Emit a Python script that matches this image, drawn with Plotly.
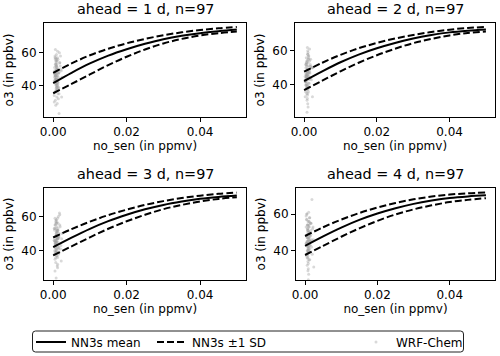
import plotly.graph_objects as go

# NN3s curves, read at these no_sen values (ppmv)
no_grid = [0.0, 0.005, 0.01, 0.015, 0.02, 0.025, 0.03, 0.035, 0.04, 0.045, 0.05]

mean_1d = [41.5, 47.8, 53.5, 58.3, 62.2, 65.5, 68.3, 70.4, 72.0, 73.2, 74.2]
upper_1d = [47.8, 53.5, 58.5, 62.5, 65.8, 68.5, 70.7, 72.5, 73.9, 75.0, 75.8]
lower_1d = [35.3, 41.0, 46.8, 52.5, 57.6, 62.0, 65.7, 68.5, 70.6, 72.0, 73.0]

mean_2d = [42.3, 48.0, 53.3, 57.8, 61.5, 64.6, 67.2, 69.2, 70.8, 71.8, 72.5]
upper_2d = [47.8, 53.0, 57.6, 61.5, 64.6, 67.2, 69.3, 71.0, 72.4, 73.4, 74.0]
lower_2d = [37.0, 42.5, 48.0, 53.0, 57.4, 61.2, 64.5, 67.0, 69.0, 70.5, 71.3]

mean_3d = [42.0, 47.6, 52.8, 57.3, 61.0, 64.2, 66.8, 68.8, 70.4, 71.5, 72.3]
upper_3d = [47.7, 52.6, 57.0, 60.8, 64.0, 66.8, 69.0, 70.8, 72.2, 73.3, 74.0]
lower_3d = [37.2, 42.5, 47.8, 52.8, 57.2, 61.0, 64.3, 66.8, 68.8, 70.3, 71.3]

mean_4d = [42.6, 47.8, 52.6, 56.8, 60.3, 63.2, 65.6, 67.4, 68.8, 69.7, 70.3]
upper_4d = [48.0, 52.8, 57.0, 60.6, 63.6, 66.1, 68.1, 69.6, 70.7, 71.4, 71.8]
lower_4d = [37.6, 42.6, 47.6, 52.2, 56.3, 59.8, 62.6, 64.8, 66.6, 67.8, 68.7]

# WRF-Chem points: sensor NO in ppbv, o3 in ppbv per lead time
no_sen_ppbv = [
    0.6, 0.9, 1.1, 0.4, 1.3, 0.8, 0.7, 1.6, 0.5, 1.0,
    1.2, 0.9, 0.3, 1.8, 0.7, 1.1, 0.6, 1.4, 0.8, 2.1,
    0.5, 1.0, 0.9, 1.2, 0.4, 1.5, 0.7, 0.8, 1.9, 0.6,
    1.1, 0.9, 1.3, 0.5, 0.7, 1.0, 2.4, 0.8, 1.2, 0.6,
    0.9, 1.4, 0.3, 1.1, 0.7, 1.7, 0.5, 1.0, 0.8, 1.3,
    0.6, 2.2, 0.9, 1.2, 0.4, 1.0, 0.7, 1.5, 0.8, 1.1,
    0.5, 1.6, 0.9, 0.6, 1.3, 0.7, 1.0, 2.0, 0.8, 1.2,
    0.4, 0.9, 1.4, 0.6, 1.1, 0.7, 1.8, 0.5, 1.0, 0.8,
    1.2, 0.3, 1.5, 0.9, 0.6, 1.1, 0.7, 2.3, 1.0, 0.8,
    1.3, 0.5, 0.9, 1.6, 0.7, 1.1, 0.6,
]

wrf_o3_1d = [
    44, 52, 38, 47, 56, 41, 49, 35, 58, 46,
    43, 51, 30, 54, 48, 40, 62, 45, 37, 50,
    47, 33, 55, 42, 49, 39, 57, 44, 52, 36,
    46, 59, 41, 48, 28, 53, 45, 38, 50, 43,
    56, 47, 34, 51, 42, 60, 46, 39, 54, 44,
    31, 49, 41, 57, 45, 37, 52, 48, 40, 55,
    43, 23, 50, 46, 35, 53, 42, 58, 47, 39,
    51, 44, 32, 56, 48, 41, 54, 36, 49, 45,
    61, 43, 38, 52, 46, 40, 55, 33, 50, 47,
    42, 57, 39, 48, 44, 29, 53,
]
wrf_o3_2d = [
    46, 39, 53, 42, 57, 48, 35, 51, 44, 60,
    41, 49, 33, 55, 45, 38, 52, 47, 24, 50,
    43, 58, 40, 47, 36, 54, 45, 31, 51, 42,
    48, 62, 39, 46, 53, 37, 50, 44, 56, 41,
    34, 49, 45, 59, 40, 52, 47, 29, 54, 43,
    38, 50, 46, 57, 42, 35, 51, 48, 44, 55,
    40, 47, 32, 53, 45, 39, 58, 43, 49, 36,
    52, 46, 41, 56, 27, 48, 44, 50, 38, 54,
    45, 42, 61, 47, 37, 51, 43, 33, 49, 46,
    55, 40, 48, 44, 52, 39, 45,
]
wrf_o3_3d = [
    45, 50, 37, 53, 42, 58, 47, 39, 55, 44,
    32, 49, 46, 61, 41, 52, 38, 47, 56, 43,
    35, 51, 45, 59, 40, 48, 44, 24, 54, 42,
    47, 37, 52, 45, 57, 39, 50, 43, 30, 55,
    46, 41, 53, 48, 36, 62, 44, 49, 40, 56,
    43, 34, 51, 47, 38, 54, 45, 42, 58, 48,
    28, 50, 44, 39, 53, 46, 57, 41, 49, 36,
    52, 45, 60, 43, 47, 33, 55, 42, 48, 40,
    51, 46, 38, 56, 44, 31, 53, 47, 41, 50,
    45, 59, 39, 48, 43, 52, 46,
]
wrf_o3_4d = [
    47, 40, 54, 44, 58, 36, 51, 45, 60, 42,
    49, 33, 53, 46, 39, 56, 43, 48, 29, 52,
    45, 61, 41, 50, 37, 55, 44, 47, 68, 40,
    53, 46, 35, 57, 42, 49, 31, 54, 45, 38,
    51, 43, 59, 47, 40, 55, 44, 27, 50, 46,
    36, 53, 42, 58, 48, 39, 52, 45, 34, 56,
    43, 49, 24, 47, 41, 54, 46, 38, 51, 44,
    57, 40, 48, 32, 53, 45, 42, 60, 47, 37,
    50, 44, 55, 41, 49, 35, 52, 46, 39, 56,
    43, 48, 30, 51, 45, 40, 54,
]

panels = [
    ("ahead = 1 d, n=97", mean_1d, upper_1d, lower_1d, wrf_o3_1d),
    ("ahead = 2 d, n=97", mean_2d, upper_2d, lower_2d, wrf_o3_2d),
    ("ahead = 3 d, n=97", mean_3d, upper_3d, lower_3d, wrf_o3_3d),
    ("ahead = 4 d, n=97", mean_4d, upper_4d, lower_4d, wrf_o3_4d),
]
y_ranges = [[20.8, 78.2], [21.2, 76.3], [22.8, 76.7], [23.9, 74.3]]

W, H = 500, 356
# panel boxes in pixels: left, right, top, bottom
boxes = [(44, 246, 23, 117), (295, 495, 23, 117), (44, 246, 188, 280), (296, 495, 188, 280)]

FONT = "DejaVu Sans, sans-serif"
no_sen = [v / 1000 for v in no_sen_ppbv]

fig = go.Figure()
annotations = []
for i, (title, mean, upper, lower, o3) in enumerate(panels):
    n = "" if i == 0 else str(i + 1)
    xa, ya = "x" + n, "y" + n
    first = i == 0
    fig.add_trace(go.Scatter(
        x=no_sen, y=o3, xaxis=xa, yaxis=ya, mode="markers", name="WRF-Chem",
        marker=dict(color="rgba(160,160,160,0.4)", size=3),
        showlegend=first, legend="legend3"))
    fig.add_trace(go.Scatter(
        x=no_grid, y=mean, xaxis=xa, yaxis=ya, mode="lines", name="NN3s mean",
        line=dict(color="black", width=2, shape="spline"),
        showlegend=first, legend="legend"))
    for j, band in enumerate([upper, lower]):
        fig.add_trace(go.Scatter(
            x=no_grid, y=band, xaxis=xa, yaxis=ya, mode="lines", name="NN3s ±1 SD",
            line=dict(color="black", width=2, dash="7px,3px", shape="spline"),
            showlegend=first and j == 0, legend="legend2"))

    l, r, t, b = boxes[i]
    axis_common = dict(showline=True, mirror=True, linecolor="black", linewidth=1,
                       ticks="outside", ticklen=4, tickcolor="black", showgrid=False,
                       zeroline=False, automargin=False,
                       tickfont=dict(size=12, color="black"))
    fig.layout["xaxis" + n] = dict(
        domain=[l / W, r / W], anchor=ya, range=[-0.0025, 0.0525],
        tickvals=[0, 0.02, 0.04], tickformat=".2f",
        title=dict(text="no_sen (in ppmv)", font=dict(size=12, color="black"), standoff=1),
        **axis_common)
    fig.layout["yaxis" + n] = dict(
        domain=[1 - b / H, 1 - t / H], anchor=xa, range=y_ranges[i],
        tickvals=[40, 60],
        title=dict(text="o3 (in ppbv)", font=dict(size=12, color="black"), standoff=5),
        **axis_common)
    annotations.append(dict(
        text=title, x=(l + r) / 2 / W, y=1 - (t - 4) / H, xref="paper", yref="paper",
        xanchor="center", yanchor="bottom", showarrow=False,
        font=dict(size=14.4, color="black")))

# one legend per entry, placed like the matplotlib expanded legend row
legend_style = dict(orientation="h", y=1 - 342 / H, yanchor="middle", xanchor="left",
                    bgcolor="rgba(0,0,0,0)", borderwidth=0,
                    font=dict(size=12, color="black"))

# rounded frame around the legend row
x0, x1, y0, y1, rr = 32.5 / W, 463.5 / W, 1 - 352 / H, 1 - 331 / H, 3
rx, ry = rr / W, rr / H
frame = (f"M {x0 + rx},{y0} L {x1 - rx},{y0} Q {x1},{y0} {x1},{y0 + ry} "
         f"L {x1},{y1 - ry} Q {x1},{y1} {x1 - rx},{y1} L {x0 + rx},{y1} "
         f"Q {x0},{y1} {x0},{y1 - ry} L {x0},{y0 + ry} Q {x0},{y0} {x0 + rx},{y0} Z")

fig.update_layout(
    width=W, height=H,
    margin=dict(l=0, r=0, t=0, b=0, autoexpand=False),
    paper_bgcolor="white", plot_bgcolor="white",
    font=dict(family=FONT, size=12, color="black"),
    annotations=annotations,
    legend=dict(x=31 / W, **legend_style),
    legend2=dict(x=152 / W, **legend_style),
    legend3=dict(x=356 / W, **legend_style),
    shapes=[dict(type="path", path=frame, xref="paper", yref="paper",
                 line=dict(color="#222222", width=1), fillcolor="rgba(0,0,0,0)")],
)

# drop the page's default body margin so the 500x356 figure sits at the origin
fig.write_html("out.html", config={"displayModeBar": False},
               post_script="document.body.style.margin='0';"
                           "document.body.style.overflow='hidden';")
